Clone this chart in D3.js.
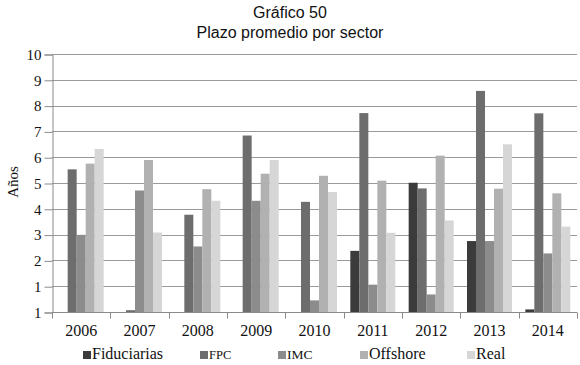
<!DOCTYPE html>
<html><head><meta charset="utf-8">
<script src="https://cdn.jsdelivr.net/npm/d3@7"></script>
<style>
html,body{margin:0;padding:0;background:#fff;}
.serif{font-family:'Liberation Serif','Times New Roman','DejaVu Serif',serif;}
.sans{font-family:'Liberation Sans',Arial,sans-serif;}
</style>
</head><body>
<svg id="chart" width="580" height="365"></svg>
<script>
const years = ["2006","2007","2008","2009","2010","2011","2012","2013","2014"];
const seriesNames = ["Fiduciarias","FPC","IMC","Offshore","Real"];
const fiduciarias = [0, 0, 0, 0, 0, 2.37, 5.01, 2.75, 0.1];
const fpc = [5.53, 0.07, 3.77, 6.84, 4.27, 7.71, 4.79, 8.57, 7.7];
const imc = [2.99, 4.71, 2.54, 4.31, 0.45, 1.06, 0.68, 2.75, 2.27];
const offshore = [5.75, 5.89, 4.76, 5.36, 5.28, 5.09, 6.06, 4.78, 4.6];
const real = [6.32, 3.08, 4.31, 5.89, 4.65, 3.07, 3.55, 6.5, 3.31];
const yTickValues = [0,1,2,3,4,5,6,7,8,9,10];
const yTickLabels = ["1","1","2","3","4","5","6","7","8","9","10"];
const colors = ["#3b3b3b","#6d6d6d","#8c8c8c","#b1b1b1","#d6d6d6"];

const seriesValues = [fiduciarias, fpc, imc, offshore, real];
const svg = d3.select("#chart");
const L = 52, R = 577, T = 54, B = 312;

const x0 = d3.scaleBand().domain(years).range([L, R]).padding(0);
const x1 = d3.scaleBand().domain(seriesNames).range([0, x0.bandwidth()]).paddingInner(0).paddingOuter(0.74);
const y = d3.scaleLinear().domain([0, 10]).range([B, T]);
const color = d3.scaleOrdinal().domain(seriesNames).range(colors);

// gridlines
svg.append("g").selectAll("line").data(yTickValues.filter(v => v > 0)).join("line")
  .attr("x1", L).attr("x2", R).attr("y1", d => Math.round(y(d)) + 0.5).attr("y2", d => Math.round(y(d)) + 0.5)
  .attr("stroke", "#9a9a9a").attr("stroke-width", 1);

// bars
const groups = svg.append("g").selectAll("g").data(years).join("g")
  .attr("transform", d => `translate(${x0(d)},0)`);
groups.selectAll("rect").data((d, i) => seriesNames.map((s, j) => ({s, v: seriesValues[j][i]})))
  .join("rect")
  .attr("x", d => x1(d.s)).attr("width", x1.bandwidth())
  .attr("y", d => y(d.v)).attr("height", d => y(0) - y(d.v))
  .attr("fill", d => color(d.s));

// y axis
const yAxis = d3.axisLeft(y).tickValues(yTickValues).tickFormat((d, i) => yTickLabels[i]).tickSize(8).tickPadding(3);
const gy = svg.append("g").attr("transform", `translate(${L + 0.5},0.5)`).call(yAxis);
gy.attr("font-family", null).attr("font-size", null);
gy.selectAll("text").attr("class", "serif").style("font-size", "15px").attr("fill", "#111");
gy.selectAll("line").attr("stroke", "#8a8a8a");
gy.select(".domain").attr("stroke", "#8a8a8a");

// x axis
const gx = svg.append("g").attr("transform", `translate(0,${B + 0.5})`);
gx.append("line").attr("x1", L).attr("x2", R).attr("stroke", "#8a8a8a");
gx.selectAll(".tk").data(years.map(d => x0(d)).concat([R])).join("line").attr("class", "tk")
  .attr("x1", d => Math.round(d) + 0.5).attr("x2", d => Math.round(d) + 0.5).attr("y1", 0).attr("y2", 6)
  .attr("stroke", "#8a8a8a");
gx.selectAll("text").data(years).join("text").attr("class", "serif")
  .attr("x", d => x0(d) + x0.bandwidth() / 2).attr("y", 23)
  .attr("text-anchor", "middle").style("font-size", "16px").attr("fill", "#111")
  .text(d => d);

// y label
svg.append("text").attr("class", "serif").attr("transform", "translate(18,182) rotate(-90)")
  .attr("text-anchor", "middle").style("font-size", "15px").attr("fill", "#111")
  .text("Años");

// title
svg.append("text").attr("class", "sans").attr("x", 290).attr("y", 18).attr("text-anchor", "middle")
  .style("font-size", "16px").attr("fill", "#111").text("Gráfico 50");
svg.append("text").attr("class", "sans").attr("x", 290).attr("y", 37.5).attr("text-anchor", "middle")
  .style("font-size", "16px").attr("fill", "#111").text("Plazo promedio por sector");

// legend
const legendX = [83, 200, 278, 360, 467];
const legendSize = [16, 12.5, 13.5, 16, 16];
const lg = svg.append("g").selectAll("g").data(seriesNames).join("g")
  .attr("transform", (d, i) => `translate(${legendX[i]},350)`);
lg.append("rect").attr("width", 8).attr("height", 8).attr("y", 1).attr("fill", d => color(d));
lg.append("text").attr("class", "serif").attr("x", 9).attr("y", 9)
  .style("font-size", (d, i) => legendSize[i] + "px").attr("fill", "#111").text(d => d);
</script>
</body></html>
